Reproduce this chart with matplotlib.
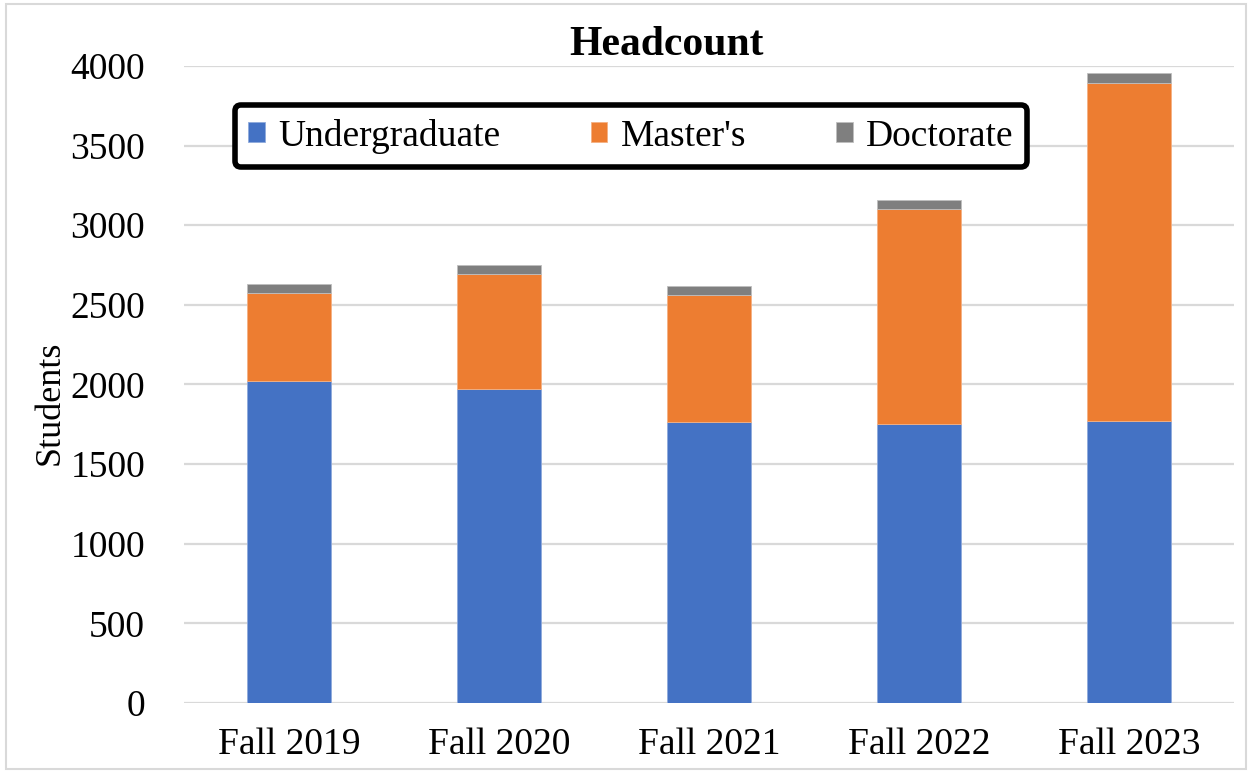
import numpy as np
import matplotlib
matplotlib.use("Agg")
from matplotlib import pyplot as plt
from matplotlib.patches import Rectangle

terms = ['Fall 2019', 'Fall 2020', 'Fall 2021', 'Fall 2022', 'Fall 2023']
undergrad = [2020, 1974, 1767, 1754, 1773]
masters = [555, 718, 793, 1346, 2123]
doctorate = [56, 56, 59, 59, 58]
yticks = [0, 500, 1000, 1500, 2000, 2500, 3000, 3500, 4000]

plt.rcParams['font.family'] = ['Liberation Serif', 'DejaVu Serif']

fig = plt.figure(figsize=(12.52, 7.71), dpi=100)
ax = fig.add_axes([0.147, 0.0882, 0.8388, 0.8262])

x = np.arange(len(terms))
ug = np.array(undergrad)
ms = np.array(masters)
dr = np.array(doctorate)
w = 0.4
b1 = ax.bar(x, ug, w, color='#4472C4', edgecolor='#8faadc', linewidth=0.6, label='Undergraduate', zorder=3)
b2 = ax.bar(x, ms, w, bottom=ug, color='#ED7D31', edgecolor='#f4b183', linewidth=0.6, label="Master's", zorder=3)
b3 = ax.bar(x, dr, w, bottom=ug + ms, color='#7F7F7F', edgecolor='#bfbfbf', linewidth=0.6, label='Doctorate', zorder=3)

ax.set_xlim(-0.5, len(terms) - 0.5)
ax.set_ylim(0, 4000)
ax.set_yticks(yticks)
ax.set_xticks(x)
ax.set_xticklabels(terms)
ax.tick_params(axis='both', length=0, labelsize=27)
ax.tick_params(axis='y', pad=28)
ax.tick_params(axis='x', pad=18)
ax.grid(axis='y', color='#d9d9d9', linewidth=1.6, zorder=0)
for s in ax.spines.values():
    s.set_visible(False)
ax.set_ylabel('Students', fontsize=26)
ax.yaxis.set_label_coords(-0.112, 0.472)

fig.text(0.532, 0.942, 'Headcount', ha='center', va='center', fontsize=30, fontweight='bold')

leg = fig.legend(handles=[b1, b2, b3], loc='center', bbox_to_anchor=(0.504, 0.8236), ncol=3,
                 fontsize=27, frameon=True, fancybox=True, framealpha=1, handlelength=0.45, handleheight=0.45,
                 handletextpad=0.35, columnspacing=2.4, borderpad=0.2, borderaxespad=0)
leg.get_frame().set_edgecolor('black')
leg.get_frame().set_linewidth(4)
leg.get_frame().set_boxstyle('round', pad=0.15, rounding_size=0.15)

fig.patches.append(Rectangle((0.005, 0.003), 0.99, 0.992, transform=fig.transFigure,
                             fill=False, edgecolor='#d9d9d9', linewidth=1.5))

fig.savefig('out.png', dpi=100)
